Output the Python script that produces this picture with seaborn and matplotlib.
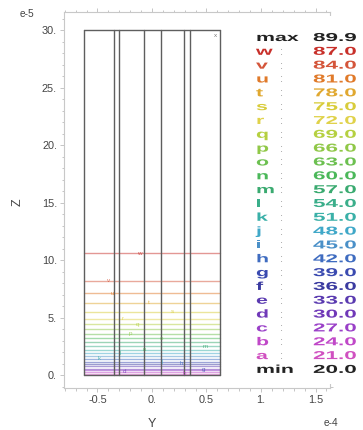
import numpy as np
import pandas as pd
import matplotlib
matplotlib.use("Agg")
import matplotlib.pyplot as plt
import seaborn as sns
from matplotlib.patches import Rectangle
from matplotlib.patheffects import AbstractPathEffect
from matplotlib.transforms import Affine2D
from matplotlib.ticker import MultipleLocator, FixedLocator, FixedFormatter

# ---------------- data ----------------
LEVEL_NAMES = ["a", "b", "c", "d", "e", "f", "g", "h", "i", "j", "k", "l",
               "m", "n", "o", "p", "q", "r", "s", "t", "u", "v", "w"]
LEVEL_VALUES = [21.0, 24.0, 27.0, 30.0, 33.0, 36.0, 39.0, 42.0, 45.0, 48.0, 51.0, 54.0,
                57.0, 60.0, 63.0, 66.0, 69.0, 72.0, 75.0, 78.0, 81.0, 84.0, 87.0]
# height (Z, e-5) of each contour line
LEVEL_Z = [0.1, 0.25, 0.4, 0.55, 0.75, 0.95, 1.15, 1.4, 1.65, 1.9, 2.2, 2.5,
           2.85, 3.2, 3.6, 4.0, 4.4, 4.9, 5.5, 6.3, 7.1, 8.2, 10.6]
LEVEL_COLORS = ["#d050c0", "#c048c8", "#9a40c8", "#7038b8", "#5a3ab0", "#3a3aa0",
                "#3a4ab0", "#3f6cc0", "#4a90c8", "#40a8c8", "#3ab0a8", "#3aae8a",
                "#3aaa70", "#4bb85a", "#6cc050", "#90c848", "#b5d040", "#e0d24a",
                "#d8cc3a", "#e0a830", "#e07a2a", "#d4553a", "#c8302a"]
MAX_VALUE = 89.9
MIN_VALUE = 20.0

# geometry of the domain (Y in e-4, Z in e-5)
Y_EDGES = [-0.62, -0.35, -0.30, -0.07, 0.08, 0.29, 0.35, 0.62]
Z_BOTTOM = 0.0
Z_TOP = 30.0

# contour labels: (letter, Y, Z)
LABEL_LETTERS = ["w", "v", "u", "t", "s", "r", "q", "p", "o", "n", "m", "l", "k", "j", "h", "g", "d", "b"]
LABEL_Y = [-0.12, -0.40, -0.36, -0.03, 0.19, -0.27, -0.13, -0.20, 0.09, -0.07, 0.49, -0.29, -0.48, 0.09, 0.27, 0.47, -0.25, 0.30]
LABEL_Z = [10.6, 8.2, 7.1, 6.3, 5.5, 4.9, 4.4, 3.6, 3.2, 2.2, 2.5, 1.9, 1.4, 1.15, 1.0, 0.5, 0.3, 0.1]

X_TICKS = [-0.5, 0.0, 0.5, 1.0, 1.5]
X_TICK_LABELS = ["-0.5", "0.", "0.5", "1.", "1.5"]
Y_TICKS = [0, 5, 10, 15, 20, 25, 30]
Y_TICK_LABELS = ["0.", "5.", "10.", "15.", "20.", "25.", "30."]

# ---------------- style ----------------
sns.set_style("white")
plt.rcParams["font.family"] = ["Liberation Sans", "DejaVu Sans"]

W, H = 363, 430
fig = plt.figure(figsize=(W / 100, H / 100), dpi=100)
L, R, T, B = 64, 330, 12, 388
ax = fig.add_axes([L / W, 1 - B / H, (R - L) / W, (B - T) / H])

# contour lines
rows = []
for name, z in zip(LEVEL_NAMES, LEVEL_Z):
    rows.append({"Y": Y_EDGES[0], "Z": z, "level": name})
    rows.append({"Y": Y_EDGES[-1], "Z": z, "level": name})
df_lev = pd.DataFrame(rows)
pal = dict(zip(LEVEL_NAMES, LEVEL_COLORS))
sns.lineplot(data=df_lev, x="Y", y="Z", hue="level", palette=pal, units="level",
             estimator=None, legend=False, ax=ax, lw=1.0, alpha=0.5, sort=False)

# domain frame
frame = []
for i, y in enumerate(Y_EDGES):
    frame.append({"Y": y, "Z": Z_BOTTOM, "seg": f"v{i}"})
    frame.append({"Y": y, "Z": Z_TOP, "seg": f"v{i}"})
for zname, z in (("bot", Z_BOTTOM), ("top", Z_TOP)):
    frame.append({"Y": Y_EDGES[0], "Z": z, "seg": zname})
    frame.append({"Y": Y_EDGES[-1], "Z": z, "seg": zname})
df_frame = pd.DataFrame(frame)
sns.lineplot(data=df_frame, x="Y", y="Z", units="seg", estimator=None, color="#5e5e5e",
             lw=1.0, ax=ax, legend=False, sort=False)

for letter, y, z in zip(LABEL_LETTERS, LABEL_Y, LABEL_Z):
    c = pal[letter]
    ax.text(y, z, letter, color=c, fontsize=4.5, ha="center", va="center", alpha=0.8)
ax.text(0.58, 29.5, "x", color="#777777", fontsize=4.5, ha="center", va="center")

ax.set_xlim(-0.807, 1.633)
ax.set_ylim(-1.13, 31.57)
ax.set_xlabel("")
ax.set_ylabel("")
ax.xaxis.set_major_locator(FixedLocator(X_TICKS))
ax.xaxis.set_major_formatter(FixedFormatter(X_TICK_LABELS))
ax.yaxis.set_major_locator(FixedLocator(Y_TICKS))
ax.yaxis.set_major_formatter(FixedFormatter(Y_TICK_LABELS))
ax.xaxis.set_minor_locator(MultipleLocator(0.1))
ax.yaxis.set_minor_locator(MultipleLocator(1))
ax.tick_params(which="both", direction="out", colors="#bbbbbb", labelcolor="#444444",
               top=True, right=True, bottom=True, left=True, labelsize=7.8, width=0.6)
ax.tick_params(which="major", length=3, pad=2)
ax.tick_params(which="minor", length=1.8)
for s in ax.spines.values():
    s.set_color("#c8c8c8")
    s.set_linewidth(0.8)

fig.text(152 / W, 1 - 424 / H, "Y", color="#444444", fontsize=9, ha="center", va="center")
fig.text(18 / W, 1 - 202 / H, "Z", color="#444444", fontsize=9, ha="center", va="center",
         rotation=90)
fig.text(27 / W, 1 - 14 / H, "e-5", color="#444444", fontsize=7.3, ha="center", va="center")
fig.text(331 / W, 1 - 423 / H, "e-4", color="#444444", fontsize=7.3, ha="center", va="center")


# ---------------- legend panel ----------------
class Stretch(AbstractPathEffect):
    def __init__(self, sx):
        super().__init__()
        self.sx = sx

    def draw_path(self, renderer, gc, tpath, affine, rgbFace=None):
        renderer.draw_path(gc, tpath, Affine2D().scale(self.sx, 1.0) + affine, rgbFace)


fig.patches.append(Rectangle((246 / W, 1 - 384 / H), (W - 246) / W, (384 - 16) / H,
                             transform=fig.transFigure, facecolor="white",
                             edgecolor="none", zorder=2))

leg_names = ["max"] + LEVEL_NAMES[::-1] + ["min"]
leg_vals = [MAX_VALUE] + LEVEL_VALUES[::-1] + [MIN_VALUE]
leg_cols = ["#222222"] + LEVEL_COLORS[::-1] + ["#222222"]
y0, dy = 38.0, 13.83
for i, (nm, v, c) in enumerate(zip(leg_names, leg_vals, leg_cols)):
    yp = 1 - (y0 + i * dy) / H
    fig.text(256 / W, yp, nm, color=c, fontsize=8.3, ha="left", va="center",
             weight="bold", path_effects=[Stretch(1.85)], zorder=4)
    if nm not in ("max", "min"):
        fig.text(280 / W, yp, ":", color="#999999", fontsize=8, ha="left", va="center",
                 zorder=4)
    fig.text(313 / W, yp, f"{v:.1f}", color=c, fontsize=8.3, ha="left", va="center",
             weight="bold", path_effects=[Stretch(1.95)], zorder=4)

fig.savefig("out.png", dpi=100)
